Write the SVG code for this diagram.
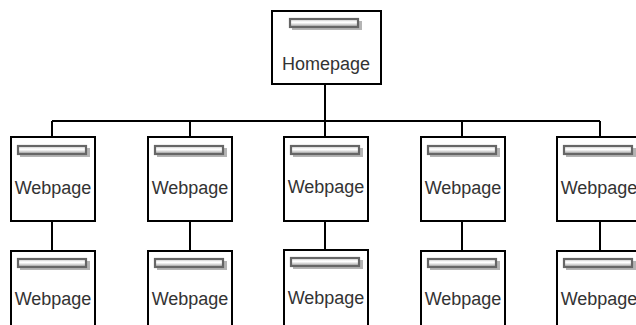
<svg xmlns="http://www.w3.org/2000/svg" width="636" height="325" viewBox="0 0 636 325">
<defs>
<linearGradient id="bg" x1="0" y1="0" x2="0" y2="1">
<stop offset="0" stop-color="#e0e0e0"/>
<stop offset="0.45" stop-color="#ffffff"/>
<stop offset="1" stop-color="#9a9a9a"/>
</linearGradient>
<g id="bar">
<rect x="3" y="3" width="70" height="9" fill="#b4b4b4"/>
<rect x="1" y="1" width="68" height="8" fill="url(#bg)" stroke="#666" stroke-width="2.2"/>
</g>
</defs>
<style>
.box{fill:#fff;stroke:#000;stroke-width:2}
.t{font-family:"Liberation Sans",Arial,sans-serif;font-size:18px;fill:#333;text-anchor:middle}
.c{fill:none;stroke:#000;stroke-width:2}
</style>
<rect width="636" height="325" fill="#fff"/>
<g id="connectors">
<path class="c" d="M325 84V121M52 121H600M52 121V137M190 121V137M325 121V137M462 121V137M600 121V137"/>
<path class="c" d="M52 221V251M190 221V251M325 221V250M462 221V251M600 221V251"/>
</g>
<g id="homepage">
<rect class="box" x="272" y="11" width="109" height="73"/>
<use href="#bar" x="289" y="18"/>
<text class="t" x="326" y="70">Homepage</text>
</g>
<g id="web1"><rect class="box" x="11" y="137" width="84" height="84"/><use href="#bar" x="17" y="145"/><text class="t" x="53" y="194">Webpage</text></g>
<g id="web2"><rect class="box" x="148" y="137" width="84" height="84"/><use href="#bar" x="154" y="145"/><text class="t" x="190" y="194">Webpage</text></g>
<g id="web3"><rect class="box" x="284" y="137" width="84" height="84"/><use href="#bar" x="290" y="145"/><text class="t" x="326" y="193">Webpage</text></g>
<g id="web4"><rect class="box" x="421" y="137" width="84" height="84"/><use href="#bar" x="427" y="145"/><text class="t" x="463" y="194">Webpage</text></g>
<g id="web5"><rect class="box" x="557" y="137" width="84" height="84"/><use href="#bar" x="563" y="145"/><text class="t" x="599" y="194">Webpage</text></g>
<g id="web6"><rect class="box" x="11" y="251" width="84" height="84"/><use href="#bar" x="17" y="258"/><text class="t" x="53" y="305">Webpage</text></g>
<g id="web7"><rect class="box" x="148" y="251" width="84" height="84"/><use href="#bar" x="154" y="258"/><text class="t" x="190" y="305">Webpage</text></g>
<g id="web8"><rect class="box" x="284" y="250" width="84" height="84"/><use href="#bar" x="290" y="257"/><text class="t" x="326" y="304">Webpage</text></g>
<g id="web9"><rect class="box" x="421" y="251" width="84" height="84"/><use href="#bar" x="427" y="258"/><text class="t" x="463" y="305">Webpage</text></g>
<g id="web10"><rect class="box" x="557" y="251" width="84" height="84"/><use href="#bar" x="563" y="258"/><text class="t" x="599" y="305">Webpage</text></g>
</svg>
